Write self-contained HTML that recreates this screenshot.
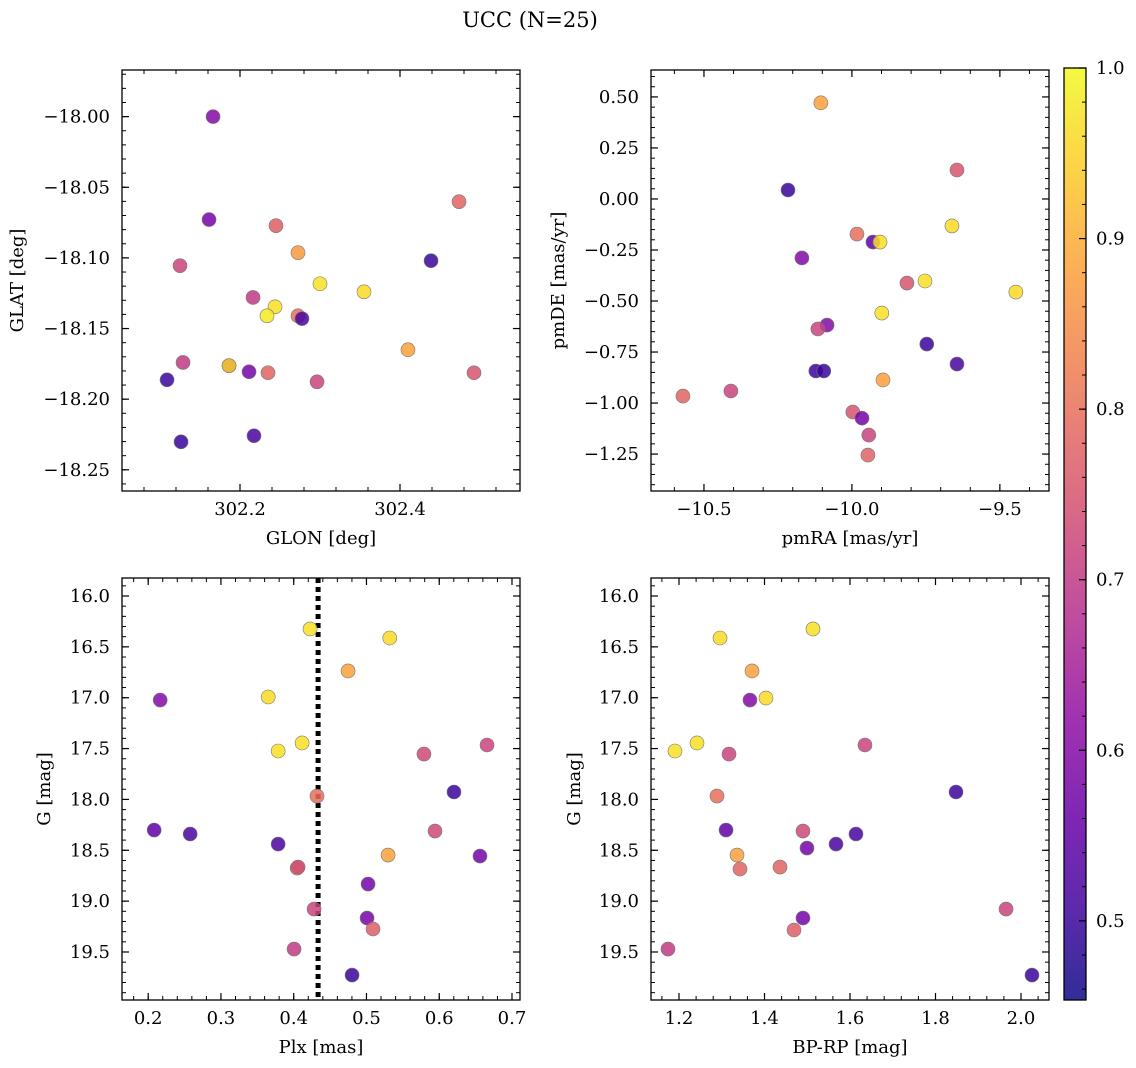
<!DOCTYPE html>
<html><head><meta charset="utf-8"><style>
html,body{margin:0;padding:0;background:#fff}
svg{display:block;font-family:"DejaVu Serif","Liberation Serif",serif}
</style></head><body>
<svg id="fig" width="1136" height="1068" viewBox="0 0 1136 1068" xmlns="http://www.w3.org/2000/svg">
<defs>
<linearGradient id="plasma" x1="0" y1="1" x2="0" y2="0"></linearGradient>
</defs>
<text x="530" y="27" font-size="21" text-anchor="middle">UCC (N=25)</text>
</svg>
<script>
// ---- data ----
const glon=[302.1663,302.1613,302.125,302.245,302.2725,302.4738,302.4388,302.3,302.355,302.2163,302.2438,302.2338,302.2725,302.2775,302.41,302.1288,302.1863,302.1863,302.2113,302.235,302.1088,302.2963,302.4925,302.1263,302.2175];
const glat=[-18.000,-18.0729,-18.1055,-18.0772,-18.0963,-18.0602,-18.102,-18.1183,-18.124,-18.128,-18.1346,-18.141,-18.141,-18.143,-18.165,-18.174,-18.1763,-18.1763,-18.1806,-18.1813,-18.1863,-18.1877,-18.1813,-18.2302,-18.2259];
const probA=[0.60,0.58,0.72,0.77,0.87,0.78,0.50,0.97,0.96,0.70,0.97,0.98,0.80,0.52,0.88,0.70,0.60,0.95,0.58,0.78,0.50,0.72,0.75,0.50,0.52];

const pmra=[-10.105,-10.216,-9.645,-9.983,-9.929,-9.905,-9.662,-10.169,-9.814,-9.753,-9.446,-9.899,-10.084,-10.115,-9.747,-10.122,-10.095,-9.645,-9.895,-10.571,-10.409,-9.997,-9.966,-9.943,-9.946];
const pmde=[0.471,0.044,0.142,-0.172,-0.211,-0.211,-0.132,-0.289,-0.412,-0.402,-0.456,-0.559,-0.618,-0.637,-0.711,-0.843,-0.843,-0.809,-0.887,-0.966,-0.941,-1.044,-1.074,-1.157,-1.255];
const probB=[0.88,0.50,0.75,0.80,0.55,0.97,0.96,0.60,0.75,0.97,0.96,0.97,0.60,0.72,0.50,0.50,0.50,0.52,0.88,0.78,0.72,0.75,0.58,0.72,0.78];

const plx=[0.4225,0.532,0.2165,0.365,0.4747,0.4115,0.3786,0.579,0.6657,0.432,0.6203,0.2082,0.2577,0.3786,0.5942,0.5297,0.656,0.4047,0.4060,0.5022,0.428,0.5008,0.509,0.4005,0.4802];
const gmagC=[16.324,16.413,17.023,16.993,16.737,17.445,17.524,17.554,17.465,17.967,17.927,18.301,18.340,18.439,18.311,18.547,18.557,18.675,18.665,18.832,19.078,19.166,19.274,19.471,19.727];
const probC=[0.97,0.96,0.60,0.96,0.88,0.97,0.97,0.73,0.72,0.80,0.50,0.55,0.52,0.52,0.73,0.88,0.58,0.78,0.74,0.58,0.72,0.58,0.77,0.70,0.50];
const plxLine=0.4335;

const bprp=[1.296,1.5134,1.3708,1.366,1.4035,1.1906,1.2421,1.317,1.635,1.2889,1.848,1.31,1.49,1.3357,1.4994,1.5673,1.614,1.3427,1.4363,1.49,1.469,1.965,1.1743,2.0257];
const gmagD=[16.413,16.324,16.737,17.023,17.003,17.524,17.445,17.554,17.465,17.967,17.927,18.301,18.311,18.547,18.478,18.439,18.340,18.684,18.665,19.166,19.284,19.078,19.471,19.727];
const probD=[0.96,0.97,0.88,0.60,0.96,0.97,0.97,0.72,0.72,0.80,0.50,0.55,0.73,0.88,0.58,0.52,0.52,0.78,0.78,0.58,0.77,0.72,0.70,0.50];

const cbTicks=[0.5,0.6,0.7,0.8,0.9,1.0];
const vmin=0.4536, vmax=1.0;

// ---- helpers ----
const NS="http://www.w3.org/2000/svg";
const svg=document.getElementById('fig');
function mk(tag,attrs,parent){const e=document.createElementNS(NS,tag);for(const k in attrs)e.setAttribute(k,attrs[k]);(parent||svg).appendChild(e);return e;}
const stops=[[0,'#0d0887'],[0.1,'#41049d'],[0.2,'#6a00a8'],[0.3,'#8f0da4'],[0.4,'#b12a90'],[0.5,'#cc4778'],[0.6,'#e16462'],[0.7,'#f2844b'],[0.8,'#fca636'],[0.9,'#fcce25'],[1,'#f0f921']];
function hex(h){return [1,3,5].map(i=>parseInt(h.substr(i,2),16));}
function plasma(t){t=Math.max(0,Math.min(1,t));for(let i=0;i<stops.length-1;i++){if(t<=stops[i+1][0]){const f=(t-stops[i][0])/(stops[i+1][0]-stops[i][0]);const a=hex(stops[i][1]),b=hex(stops[i+1][1]);return 'rgb('+a.map((v,j)=>Math.round(v+(b[j]-v)*f)).join(',')+')';}}return stops[10][1];}
function col(p){return plasma((p-vmin)/(vmax-vmin));}
function fmt(v,d){const s=Math.abs(v).toFixed(d);return (v<-1e-9?'−':'')+s;}

function panel(o){
  const g=mk('g',{});
  
  
  const sx=v=>o.px0+(v-o.xd[0])/(o.xd[1]-o.xd[0])*(o.px1-o.px0);
  const sy=v=>o.py1-(v-o.yd[0])/(o.yd[1]-o.yd[0])*(o.py1-o.py0);
  const eps=1e-9;
  function ticks(d,step){const r=[];let s=Math.ceil(Math.min(d[0],d[1])/step-eps);for(let v=s*step;v<=Math.max(d[0],d[1])+eps;v=(++s)*step)r.push(v);return r;}
  ticks(o.xd,o.xminor).forEach(v=>{const x=sx(v);mk('line',{x1:x,x2:x,y1:o.py1,y2:o.py1-4,stroke:'#000','stroke-width':1},g);mk('line',{x1:x,x2:x,y1:o.py0,y2:o.py0+4,stroke:'#000','stroke-width':1},g);});
  ticks(o.yd,o.yminor).forEach(v=>{const y=sy(v);mk('line',{x1:o.px0,x2:o.px0+4,y1:y,y2:y,stroke:'#000','stroke-width':1},g);mk('line',{x1:o.px1,x2:o.px1-4,y1:y,y2:y,stroke:'#000','stroke-width':1},g);});
  ticks(o.xd,o.xmajor).forEach(v=>{const x=sx(v);mk('line',{x1:x,x2:x,y1:o.py1,y2:o.py1-7,stroke:'#000','stroke-width':1.2},g);mk('line',{x1:x,x2:x,y1:o.py0,y2:o.py0+7,stroke:'#000','stroke-width':1.2},g);
    const t=mk('text',{x:x,y:o.py1+24,'font-size':18,'text-anchor':'middle'},g);t.textContent=fmt(v,o.xdec);
    
    });
  ticks(o.yd,o.ymajor).forEach(v=>{const y=sy(v);mk('line',{x1:o.px0,x2:o.px0+7,y1:y,y2:y,stroke:'#000','stroke-width':1.2},g);mk('line',{x1:o.px1,x2:o.px1-7,y1:y,y2:y,stroke:'#000','stroke-width':1.2},g);
    const t=mk('text',{x:o.px0-12,y:y+6,'font-size':18,'text-anchor':'end'},g);t.textContent=fmt(v,o.ydec);
    
    });
  if(o.vline!==undefined){const x=sx(o.vline);const l=mk('line',{x1:x,x2:x,y1:o.py0,y2:o.py1,stroke:'#000','stroke-width':5,'stroke-dasharray':'5,4'},g);
    
    }
  o.xs.forEach((v,i)=>{const c=mk('circle',{cx:sx(v),cy:sy(o.ys[i]),r:7,fill:col(o.ps[i]),'fill-opacity':0.85,stroke:'#777','stroke-width':0.6},g);
    
    });
  const fr=mk('rect',{x:o.px0,y:o.py0,width:o.px1-o.px0,height:o.py1-o.py0,fill:'none',stroke:'#000','stroke-width':1.3},g);
  
  
  const xl=mk('text',{x:(o.px0+o.px1)/2,y:o.py1+53,'font-size':18,'text-anchor':'middle'},g);xl.textContent=o.xlabel;
  
  
  const ylx=o.ylx, yly=(o.py0+o.py1)/2;
  const yl=mk('text',{x:ylx,y:yly,'font-size':18,'text-anchor':'middle',transform:`rotate(-90 ${ylx} ${yly})`},g);yl.textContent=o.ylabel;
  
  
}

panel({name:'glon-glat-panel',px0:122,px1:520,py0:70,py1:491,xd:[302.0525,302.55],yd:[-18.265,-17.967],xmajor:0.2,xminor:0.04,ymajor:0.05,yminor:0.01,xdec:1,ydec:2,xs:glon,ys:glat,ps:probA,xlabel:'GLON [deg]',ylabel:'GLAT [deg]',ylx:23});
panel({name:'pm-panel',px0:651,px1:1049,py0:70,py1:491,xd:[-10.679,-9.334],yd:[-1.431,0.632],xmajor:0.5,xminor:0.1,ymajor:0.25,yminor:0.05,xdec:1,ydec:2,xs:pmra,ys:pmde,ps:probB,xlabel:'pmRA [mas/yr]',ylabel:'pmDE [mas/yr]',ylx:564});
panel({name:'plx-g-panel',px0:122,px1:520,py0:578,py1:1000,xd:[0.164,0.711],yd:[19.972,15.823],xmajor:0.1,xminor:0.02,ymajor:0.5,yminor:0.1,xdec:1,ydec:1,xs:plx,ys:gmagC,ps:probC,vline:plxLine,xlabel:'Plx [mas]',ylabel:'G [mag]',ylx:50});
panel({name:'cmd-panel',px0:651,px1:1049,py0:578,py1:1000,xd:[1.1345,2.0655],yd:[19.972,15.823],xmajor:0.2,xminor:0.04,ymajor:0.5,yminor:0.1,xdec:1,ydec:1,xs:bprp,ys:gmagD,ps:probD,xlabel:'BP-RP [mag]',ylabel:'G [mag]',ylx:580});

// colorbar
const grad=document.getElementById('plasma');
for(let i=0;i<=20;i++){const p=vmin+(vmax-vmin)*i/20;mk('stop',{offset:(i/20),'stop-color':col(p),'stop-opacity':0.85},grad);}
const cb=mk('g',{});


const cx0=1064,cx1=1086,cy0=68,cy1=1000;
mk('rect',{x:cx0,y:cy0,width:cx1-cx0,height:cy1-cy0,fill:'url(#plasma)'},cb);
const cy=v=>cy1-(v-vmin)/(vmax-vmin)*(cy1-cy0);
for(let k=23;k<=50;k++){const v=k*0.02;if(v<vmin-1e-9||v>vmax+1e-9)continue;mk('line',{x1:cx1,x2:cx1-4,y1:cy(v),y2:cy(v),stroke:'#000','stroke-width':1},cb);}
cbTicks.forEach(v=>{const y=cy(v);mk('line',{x1:cx1,x2:cx1-7,y1:y,y2:y,stroke:'#000','stroke-width':1.2},cb);
  const t=mk('text',{x:cx1+10,y:y+6,'font-size':18},cb);t.textContent=v.toFixed(1);
  
  });
mk('rect',{x:cx0,y:cy0,width:cx1-cx0,height:cy1-cy0,fill:'none',stroke:'#000','stroke-width':1.3},cb);
</script>
</body></html>
